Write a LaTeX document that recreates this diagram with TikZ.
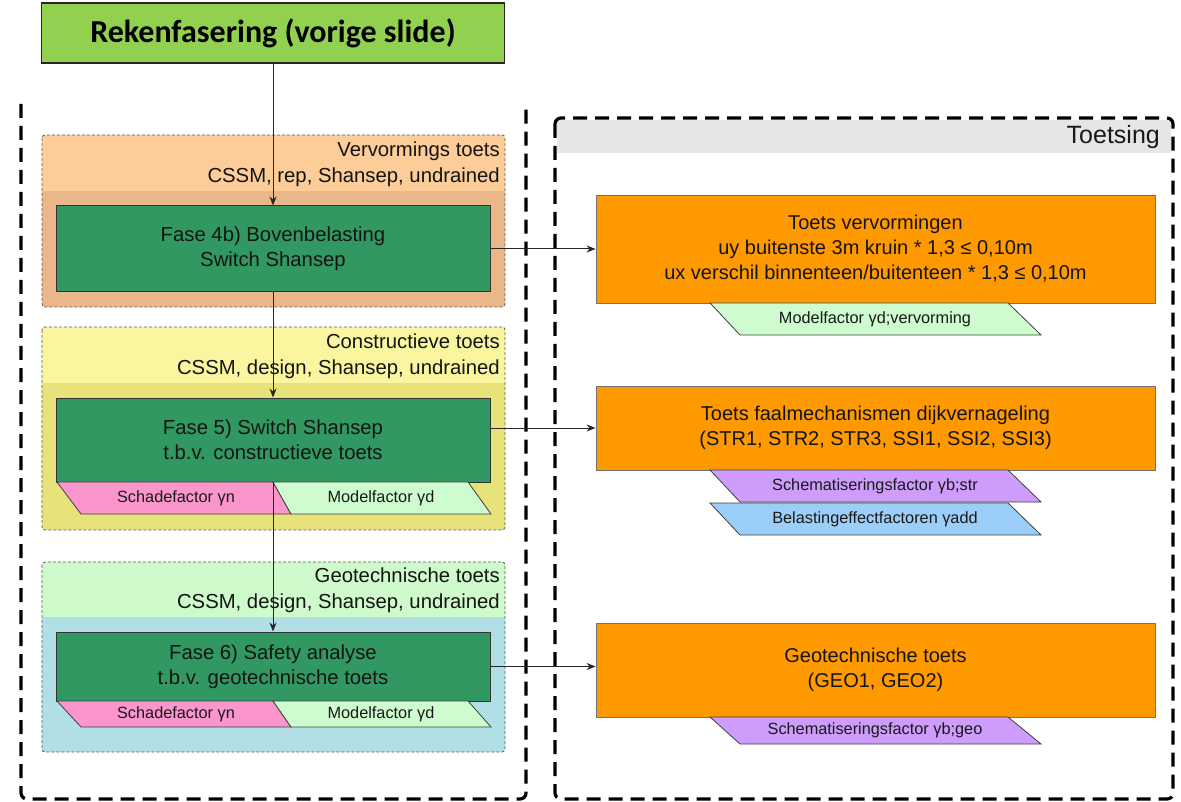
\documentclass[tikz,border=0pt]{standalone}
\usepackage{fontspec}
\setmainfont{Liberation Sans}
\newfontfamily\titlefont{Carlito}
\usetikzlibrary{arrows.meta}

\definecolor{titlegreen}{RGB}{146,208,80}
\definecolor{fasegreen}{RGB}{50,152,98}
\definecolor{toetsorange}{RGB}{255,153,0}
\definecolor{vervUp}{RGB}{252,204,153}
\definecolor{vervLow}{RGB}{233,183,137}
\definecolor{consUp}{RGB}{250,246,160}
\definecolor{consLow}{RGB}{232,226,122}
\definecolor{geoUp}{RGB}{206,250,204}
\definecolor{geoLow}{RGB}{176,224,230}
\definecolor{pinkfac}{RGB}{250,150,204}
\definecolor{greenfac}{RGB}{206,252,206}
\definecolor{purplefac}{RGB}{206,156,250}
\definecolor{bluefac}{RGB}{156,206,250}
\definecolor{bandgray}{RGB}{230,230,230}

\begin{document}
\begin{tikzpicture}[x=1pt,y=-1pt,
  bigframe/.style={draw=black, line width=3.2pt, dash pattern=on 14pt off 8pt},
  groupframe/.style={draw=black!65, line width=0.8pt, dash pattern=on 3pt off 2pt, rounded corners=3pt},
  fasebox/.style={draw=black!80, fill=fasegreen, line width=1pt, minimum width=434pt,
    inner sep=0pt, align=center, text=black!92, font=\fontsize{20.3}{25}\selectfont},
  toetsbox/.style={draw=black!55, fill=toetsorange, line width=0.8pt, minimum width=559pt,
    inner sep=0pt, align=center, text=black!92, font=\fontsize{20}{25}\selectfont},
  grouplabel/.style={anchor=east, align=right, inner sep=0pt, text=black!92,
    font=\fontsize{20.3}{26}\selectfont},
  factor/.style={draw=black!75, line width=0.8pt},
  factorlabel/.style={inner sep=0pt, text=black!90, font=\fontsize{16.3}{19}\selectfont},
  flow/.style={draw=black!85, line width=1pt, -{Stealth[length=9pt,width=7pt]}}
]
\useasboundingbox (0,0) rectangle (1181,802);

% outer frames
\draw[bigframe, rounded corners=6pt] (21,104) -- (21,799) -- (526,799) -- (526,104);
\fill[bandgray] (557,120) rectangle (1171,153);
\draw[bigframe, rounded corners=6pt] (555,118) rectangle (1173,799);
\node[anchor=east, inner sep=0pt, text=black!90, font=\fontsize{25}{29}\selectfont] (toetsing) at (1160,137) {Toetsing};

% title
\node[draw=black!85, line width=1.6pt, fill=titlegreen, minimum width=463pt, minimum height=60pt,
  font=\titlefont\bfseries\fontsize{32}{37}\selectfont] (title) at (273,33) {Rekenfasering (vorige slide)};

% group: vervormings toets
\begin{scope}
  \clip[rounded corners=3pt] (42,135) rectangle (505,307);
  \fill[vervUp] (42,135) rectangle (505,191);
  \fill[vervLow] (42,191) rectangle (505,307);
\end{scope}
\draw[groupframe] (42,135) rectangle (505,307);
\node[grouplabel] (gverv) at (500,164) {Vervormings toets\\CSSM, rep, Shansep, undrained};

% group: constructieve toets
\begin{scope}
  \clip[rounded corners=3pt] (42,327) rectangle (505,530);
  \fill[consUp] (42,327) rectangle (505,383);
  \fill[consLow] (42,383) rectangle (505,530);
\end{scope}
\draw[groupframe] (42,327) rectangle (505,530);
\node[grouplabel] (gcons) at (500,356) {Constructieve toets\\CSSM, design, Shansep, undrained};

% group: geotechnische toets
\begin{scope}
  \clip[rounded corners=3pt] (42,562) rectangle (505,752);
  \fill[geoUp] (42,562) rectangle (505,617);
  \fill[geoLow] (42,617) rectangle (505,752);
\end{scope}
\draw[groupframe] (42,562) rectangle (505,752);
\node[grouplabel] (ggeo) at (500,590) {Geotechnische toets\\CSSM, design, Shansep, undrained};

% calculation phases
\node[fasebox, minimum height=86pt] (f4) at (273,249) {Fase 4b) Bovenbelasting\\Switch Shansep};
\node[fasebox, minimum height=84pt] (f5) at (273,440) {Fase 5) Switch Shansep\\t.b.v. constructieve toets};
\node[fasebox, minimum height=69pt] (f6) at (273,666.5) {Fase 6) Safety analyse\\t.b.v. geotechnische toets};

% factors below phase 5
\path[factor, fill=pinkfac] (57,482) -- (273,482) -- (291,514) -- (81,514) -- cycle;
\path[factor, fill=greenfac] (273,482) -- (468,482) -- (491,514) -- (291,514) -- cycle;
\node[factorlabel] (f5n) at (176,498) {Schadefactor γn};
\node[factorlabel] (f5d) at (381,498) {Modelfactor γd};

% factors below phase 6
\path[factor, fill=pinkfac] (57,701) -- (273,701) -- (291,727) -- (81,727) -- cycle;
\path[factor, fill=greenfac] (273,701) -- (468,701) -- (491,727) -- (291,727) -- cycle;
\node[factorlabel] (f6n) at (176,714) {Schadefactor γn};
\node[factorlabel] (f6d) at (381,714) {Modelfactor γd};

% checks
\node[toetsbox, minimum height=108pt] (t1) at (875.5,249) {Toets vervormingen\\uy buitenste 3m kruin * 1,3 ≤ 0,10m\\ux verschil binnenteen/buitenteen * 1,3 ≤ 0,10m};
\node[toetsbox, minimum height=84pt] (t2) at (875.5,428) {Toets faalmechanismen dijkvernageling\\(STR1, STR2, STR3, SSI1, SSI2, SSI3)};
\node[toetsbox, minimum height=94pt] (t3) at (875.5,670) {Geotechnische toets\\(GEO1, GEO2)};

\path[factor, fill=greenfac] (710,303) -- (1008,303) -- (1041,335) -- (740,335) -- cycle;
\node[factorlabel] (t1d) at (875,319) {Modelfactor γd;vervorming};

\path[factor, fill=purplefac] (710,470) -- (1008,470) -- (1041,502) -- (740,502) -- cycle;
\node[factorlabel] (t2b) at (875,486) {Schematiseringsfactor γb;str};
\path[factor, fill=bluefac] (710,503) -- (1008,503) -- (1041,535) -- (740,535) -- cycle;
\node[factorlabel] (t2a) at (875,519) {Belastingeffectfactoren γadd};

\path[factor, fill=purplefac] (710,717) -- (1008,717) -- (1041,744) -- (740,744) -- cycle;
\node[factorlabel] (t3b) at (875,730.5) {Schematiseringsfactor γb;geo};

% connectors
\draw[flow] (title.south) -- (f4.north);
\draw[flow] (f4.south) -- (f5.north);
\draw[flow] (f5.south) -- (f6.north);
\draw[flow] (f4.east) -- (f4.east -| t1.west);
\draw[flow] (t2.west -| f5.east) -- (t2.west);
\draw[flow] (f6.east) -- (f6.east -| t3.west);
\end{tikzpicture}
\end{document}
